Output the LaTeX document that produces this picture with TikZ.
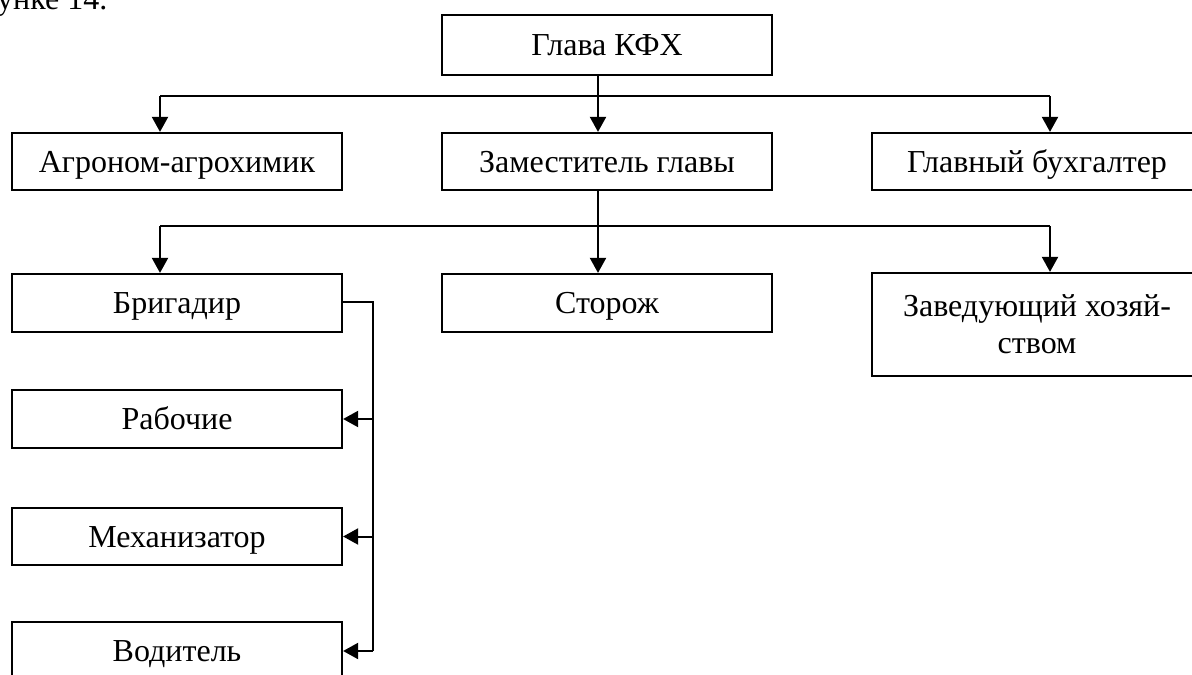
\documentclass[tikz,border=0pt]{standalone}
\usepackage{fontspec}
\setmainfont{Liberation Serif}
\usetikzlibrary{arrows.meta}
\begin{document}
\begin{tikzpicture}[x=1pt,y=-1pt,
  box/.style={draw, line width=2.2pt, minimum width=330pt, inner sep=0pt,
    text height=21.2pt, text depth=0pt, font=\fontsize{32}{37}\selectfont},
  boxtwo/.style={draw, line width=2.2pt, minimum width=330pt, inner sep=0pt,
    align=center, font=\fontsize{32}{37}\selectfont},
  conn/.style={line width=2pt},
  arr/.style={line width=2pt, -{Triangle[width=16pt,length=15pt]}}]
\useasboundingbox (0,0) rectangle (1192,675);

\node[anchor=base west, inner sep=0pt, font=\fontsize{32}{37}\selectfont] (cap) at (-3,9) {унке 14.};

\node[box, minimum height=60pt] (glava) at (607,45) {Глава КФХ};
\node[box, minimum height=57pt] (agro) at (177,161.5) {Агроном-агрохимик};
\node[box, minimum height=57pt] (zam) at (607,161.5) {Заместитель главы};
\node[box, minimum height=57pt] (buh) at (1037,161.5) {Главный бухгалтер};
\node[box, minimum height=58pt] (brig) at (177,303) {Бригадир};
\node[box, minimum height=58pt] (stor) at (607,303) {Сторож};
\node[boxtwo, minimum height=103pt] (zav) at (1037,324.5) {Заведующий хозяй-\\ством};
\node[box, minimum height=58pt] (rab) at (177,419) {Рабочие};
\node[box, minimum height=57pt] (mech) at (177,536.5) {Механизатор};
\node[box, minimum height=58pt] (vod) at (177,651) {Водитель};

% level 1 bus
\coordinate (t1) at (598,96);
\coordinate (l1) at (160,96);
\coordinate (r1) at (1050,96);
\draw[conn] (glava.south -| t1) -- (t1);
\draw[conn] (l1) -- (r1);
\draw[arr] (l1) -- (agro.north -| l1);
\draw[arr] (t1) -- (zam.north -| t1);
\draw[arr] (r1) -- (buh.north -| r1);

% level 2 bus
\coordinate (t2) at (598,226);
\coordinate (l2) at (160,226);
\coordinate (r2) at (1050,226);
\draw[conn] (zam.south -| t2) -- (t2);
\draw[conn] (l2) -- (r2);
\draw[arr] (l2) -- (brig.north -| l2);
\draw[arr] (t2) -- (stor.north -| t2);
\draw[arr] (r2) -- (zav.north -| r2);

% brigadir bracket
\coordinate (v) at (373,302);
\draw[conn] (brig.east |- v) -- (v) -- (v |- vod.east);
\draw[arr] (v |- rab.east) -- (rab.east);
\draw[arr] (v |- mech.east) -- (mech.east);
\draw[arr] (v |- vod.east) -- (vod.east);
\end{tikzpicture}
\end{document}
